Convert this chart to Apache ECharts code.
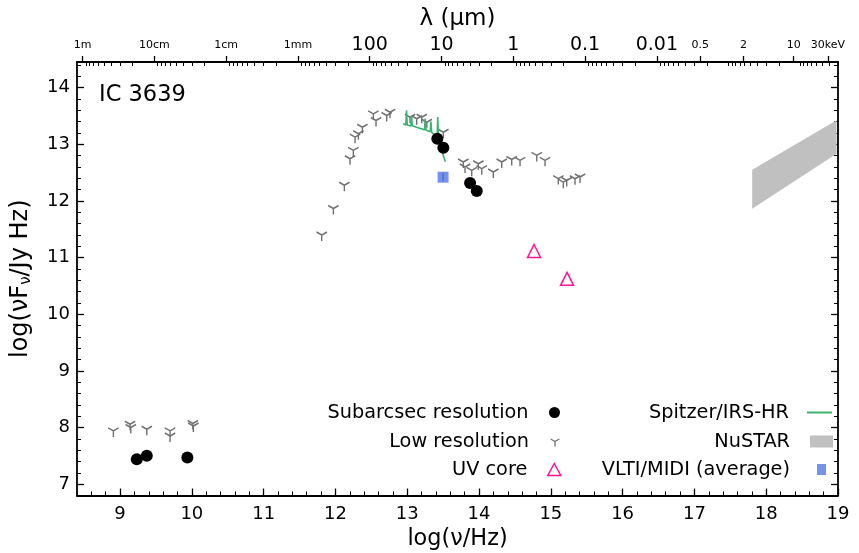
<!DOCTYPE html>
<html><head><meta charset="utf-8">
<script src="https://cdn.jsdelivr.net/npm/echarts@6/dist/echarts.min.js"></script>
<style>html,body{margin:0;padding:0;background:#fff}#c{width:859px;height:553px}</style>
</head><body><div id="c"></div>
<script>
// ---- data (log nu [Hz], log nuFnu [Jy Hz]) ----
const subX = [9.233, 9.372, 9.937, 13.419, 13.503, 13.875, 13.968];
const subY = [7.44, 7.50, 7.47, 13.095, 12.937, 12.315, 12.175];

const lowX = [8.907, 9.139, 9.149, 9.372, 9.696, 9.696, 10.021, 10.013,
  11.809, 11.971, 12.124, 12.203, 12.249, 12.273, 12.319, 12.375, 12.528, 12.565, 12.714, 12.760,
  13.039, 13.132, 13.202, 13.272, 13.503,
  13.781, 13.805, 13.898, 13.990, 14.038, 14.199, 14.316, 14.455, 14.571,
  14.804, 14.919, 15.104, 15.174, 15.221, 15.337, 15.407];
const lowY = [7.94, 8.057, 8.0, 7.97, 7.94, 7.85, 8.027, 8.07,
  11.396, 11.865, 12.275, 12.744, 12.89, 13.124, 13.183, 13.30, 13.535, 13.417, 13.505, 13.563,
  13.475, 13.447, 13.475, 13.387, 13.211,
  12.684, 12.596, 12.538, 12.655, 12.568, 12.51, 12.684, 12.73, 12.714,
  12.802, 12.714, 12.392, 12.33, 12.36, 12.39, 12.42];

const uvX = [14.766, 15.226];
const uvY = [11.115, 10.623];

const midiX = [13.499];
const midiY = [12.417];
const midiLo = [12.35];
const midiHi = [12.49];

const irsX = [12.94, 12.98, 12.99, 13.00, 13.05, 13.06, 13.07, 13.10, 13.15, 13.20, 13.24, 13.25, 13.26, 13.32, 13.33, 13.34, 13.39, 13.415, 13.425, 13.435, 13.48, 13.53];
const irsY = [13.36, 13.34, 13.60, 13.34, 13.32, 13.50, 13.32, 13.31, 13.29, 13.27, 13.25, 13.45, 13.25, 13.22, 13.40, 13.21, 13.16, 13.10, 13.48, 13.07, 12.89, 12.69];

const nustarX = [17.805, 18.98];
const nustarHi = [12.55, 13.42];
const nustarLo = [11.86, 12.83];

// ---- axes ticks ----
const xMin = 8.4, xMax = 19, yMin = 6.8, yMax = 14.45;
const xMajor = [9, 10, 11, 12, 13, 14, 15, 16, 17, 18, 19];
const yMajor = [7, 8, 9, 10, 11, 12, 13, 14];
const lamTickVals = [8.4768, 9.4768, 10.4768, 11.4768, 12.4768, 13.4768, 14.4768, 15.4768, 16.4768, 17.0825, 17.6846, 18.3835, 18.8606];
const lamTickLabels = ['1m', '10cm', '1cm', '1mm', '100', '10', '1', '0.1', '0.01', '0.5', '2', '10', '30keV'];
const lamTickBig = [0, 0, 0, 0, 1, 1, 1, 1, 1, 0, 0, 0, 0];

function minorRange(a, b, step) {
  const out = [];
  for (let v = Math.ceil(a / step) * step; v <= b + 1e-9; v += step) {
    const r = Math.round(v * 100) / 100;
    if (Math.abs(r - Math.round(r)) > 1e-6) out.push(r);
  }
  return out;
}
const xMinor = minorRange(xMin, xMax, 0.2);
const yMinor = minorRange(yMin, yMax, 0.2);
const lamMinor = [];
for (let k = 0; k <= 10; k++) {
  for (let m = 1; m <= 9; m++) {
    const v = 8.4768 + k + 1 - Math.log10(m);
    if (v > xMin && v < xMax && !lamTickVals.some(t => Math.abs(t - v) < 1e-3)) lamMinor.push(v);
  }
}

const FONT = 'DejaVu Sans';
const zip = (a, b) => a.map((v, i) => [v, b[i]]);
const ySym = 'path://M0,-10 M0,0 L0,10 M0,0 L-8.66,-5 M0,0 L8.66,-5';

function baseX(extra) {
  return Object.assign({ type: 'value', min: xMin, max: xMax, splitLine: { show: false },
    axisLine: { show: false }, axisLabel: { show: false }, axisTick: { show: false } }, extra);
}
function baseY(extra) {
  return Object.assign({ type: 'value', min: yMin, max: yMax, splitLine: { show: false },
    axisLine: { show: false }, axisLabel: { show: false }, axisTick: { show: false } }, extra);
}
const lineStyleAxis = { color: '#000', width: 1.8 };

function leg(name, top, right, iw, ih, pad, itemStyle, icon) {
  const o = {
    data: [icon ? { name: name, icon: icon } : name], orient: 'horizontal', align: 'right',
    top: top, right: right, padding: 0, itemWidth: iw, itemHeight: ih, selectedMode: false,
    textStyle: { fontSize: 19.3, fontFamily: FONT, color: '#000', lineHeight: 22, padding: [0, pad, 0, 0] }
  };
  if (itemStyle) o.itemStyle = itemStyle;
  return o;
}

const chart = echarts.init(document.getElementById('c'), null, { renderer: 'canvas' });
chart.setOption({
  animation: false,
  backgroundColor: '#fff',
  title: { text: 'IC 3639', left: 99, top: 84, padding: 0,
    textStyle: { fontSize: 22.5, fontWeight: 'normal', fontFamily: FONT, color: '#000' } },
  grid: { left: 77, right: 21, top: 62, bottom: 57.5, outerBoundsMode: 'none', containLabel: false },
  xAxis: [
    baseX({ position: 'bottom', axisLine: { show: true, lineStyle: lineStyleAxis },
      axisTick: { show: true, inside: true, length: 7, customValues: xMajor, lineStyle: { color: '#000', width: 1.3 } },
      axisLabel: { show: true, customValues: xMajor, fontSize: 18, fontFamily: FONT, color: '#000', margin: 10 },
      name: 'log(ν/Hz)', nameLocation: 'middle', nameGap: 33,
      nameTextStyle: { fontSize: 22.4, fontFamily: FONT, color: '#000' } }),
    baseX({ position: 'bottom',
      axisTick: { show: true, inside: true, length: 4, customValues: xMinor, lineStyle: { color: '#000', width: 1 } } }),
    baseX({ position: 'top', axisLine: { show: true, lineStyle: lineStyleAxis },
      axisTick: { show: true, inside: false, length: 6, customValues: lamTickVals, lineStyle: { color: '#000', width: 1.3 } },
      axisLabel: { show: true, customValues: lamTickVals, margin: 6, color: '#000', fontFamily: FONT,
        formatter: function (v) {
          let i = 0, best = 1e9;
          lamTickVals.forEach((t, j) => { if (Math.abs(t - v) < best) { best = Math.abs(t - v); i = j; } });
          return '{' + (lamTickBig[i] ? 'b' : 's') + '|' + lamTickLabels[i] + '}';
        },
        rich: { b: { fontSize: 19, fontFamily: FONT, color: '#000', lineHeight: 22 },
                s: { fontSize: 11, fontFamily: FONT, color: '#000', lineHeight: 22 } } },
      name: 'λ (μm)', nameLocation: 'middle', nameGap: 27,
      nameTextStyle: { fontSize: 23, fontFamily: FONT, color: '#000' } }),
    baseX({ position: 'top',
      axisTick: { show: true, inside: true, length: 4, customValues: lamMinor, lineStyle: { color: '#000', width: 1 } } })
  ],
  yAxis: [
    baseY({ position: 'left', axisLine: { show: true, lineStyle: lineStyleAxis },
      axisTick: { show: true, inside: true, length: 7, customValues: yMajor, lineStyle: { color: '#000', width: 1.3 } },
      axisLabel: { show: true, customValues: yMajor, fontSize: 18, fontFamily: FONT, color: '#000', margin: 7 },
      name: 'log(νF{s|ν}/Jy Hz)', nameLocation: 'middle', nameGap: 43, nameRotate: 90,
      nameTextStyle: { fontSize: 24, fontFamily: FONT, color: '#000',
        rich: { s: { fontSize: 15, fontFamily: FONT, color: '#000', padding: [11, 0, 0, 0] } } } }),
    baseY({ position: 'left',
      axisTick: { show: true, inside: true, length: 4, customValues: yMinor, lineStyle: { color: '#000', width: 1 } } }),
    baseY({ position: 'right', axisLine: { show: true, lineStyle: lineStyleAxis },
      axisTick: { show: true, inside: true, length: 7, customValues: yMajor, lineStyle: { color: '#000', width: 1.3 } } }),
    baseY({ position: 'right',
      axisTick: { show: true, inside: true, length: 4, customValues: yMinor, lineStyle: { color: '#000', width: 1 } } })
  ],
  legend: [
    leg('Subarcsec resolution', 401.5, 299, 26, 11, 8, { color: '#000', borderWidth: 0, opacity: 1 }),
    leg('Low resolution', 430.5, 299, 26, 10, 8, { color: 'rgba(0,0,0,0)', borderColor: '#707070', borderWidth: 1.3, opacity: 1 }),
    leg('UV core', 458.5, 297.5, 13, 12, 15.5, { color: 'rgba(0,0,0,0)', borderColor: '#ff1493', borderWidth: 1.5, opacity: 1 }),
    leg('Spitzer/IRS-HR', 401.5, 26, 25, 14, 13, { color: 'rgba(0,0,0,0)', borderWidth: 0 }),
    leg('NuSTAR', 430.5, 26, 23, 12, 15, { color: '#c0c0c0', borderWidth: 0 }, 'rect'),
    leg('VLTI/MIDI (average)', 458.5, 33, 9, 11, 22, { color: 'rgba(65,105,225,0.72)', borderWidth: 0, opacity: 1 }, 'rect')
  ],
  series: [
    { name: 'NuSTAR', type: 'custom', xAxisIndex: 0, yAxisIndex: 0, clip: true, z: 1,
      itemStyle: { color: '#c0c0c0' },
      data: [[nustarX[0], nustarLo[0]]],
      renderItem: function (params, api) {
        const pts = [];
        for (let i = 0; i < nustarX.length; i++) pts.push(api.coord([nustarX[i], nustarHi[i]]));
        for (let i = nustarX.length - 1; i >= 0; i--) pts.push(api.coord([nustarX[i], nustarLo[i]]));
        return { type: 'polygon', shape: { points: pts }, style: { fill: '#c0c0c0' } };
      } },
    { name: 'Low resolution', type: 'scatter', xAxisIndex: 0, yAxisIndex: 0, z: 2,
      symbol: ySym, symbolSize: [10.4, 12],
      itemStyle: { color: 'rgba(0,0,0,0)', borderColor: '#707070', borderWidth: 1.5, opacity: 1 },
      data: zip(lowX, lowY) },
    { name: 'Spitzer/IRS-HR', type: 'line', xAxisIndex: 0, yAxisIndex: 0, z: 3,
      symbol: 'none', lineStyle: { color: '#3cb371', width: 1.6 }, itemStyle: { color: '#3cb371' },
      data: zip(irsX, irsY) },
    { name: 'VLTI/MIDI (average)', type: 'scatter', xAxisIndex: 0, yAxisIndex: 0, z: 3,
      symbol: 'rect', symbolSize: 11, itemStyle: { color: 'rgba(65,105,225,0.72)', opacity: 1 },
      data: zip(midiX, midiY) },
    { name: 'midi-err', type: 'custom', xAxisIndex: 0, yAxisIndex: 0, z: 3,
      data: midiX.map((x, i) => [x, midiLo[i], midiHi[i]]),
      renderItem: function (params, api) {
        const p1 = api.coord([api.value(0), api.value(1)]);
        const p2 = api.coord([api.value(0), api.value(2)]);
        return { type: 'line', shape: { x1: p1[0], y1: p1[1], x2: p2[0], y2: p2[1] },
          style: { stroke: 'rgba(65,105,225,0.9)', lineWidth: 1.5 } };
      } },
    { name: 'Subarcsec resolution', type: 'scatter', xAxisIndex: 0, yAxisIndex: 0, z: 4,
      symbol: 'circle', symbolSize: 12, itemStyle: { color: '#000', opacity: 1 },
      data: zip(subX, subY) },
    { name: 'UV core', type: 'scatter', xAxisIndex: 0, yAxisIndex: 0, z: 4,
      symbol: 'triangle', symbolSize: 13,
      itemStyle: { color: 'rgba(0,0,0,0)', borderColor: '#ff1493', borderWidth: 1.5, opacity: 1 },
      data: zip(uvX, uvY) }
  ]
});
</script>
</body></html>
